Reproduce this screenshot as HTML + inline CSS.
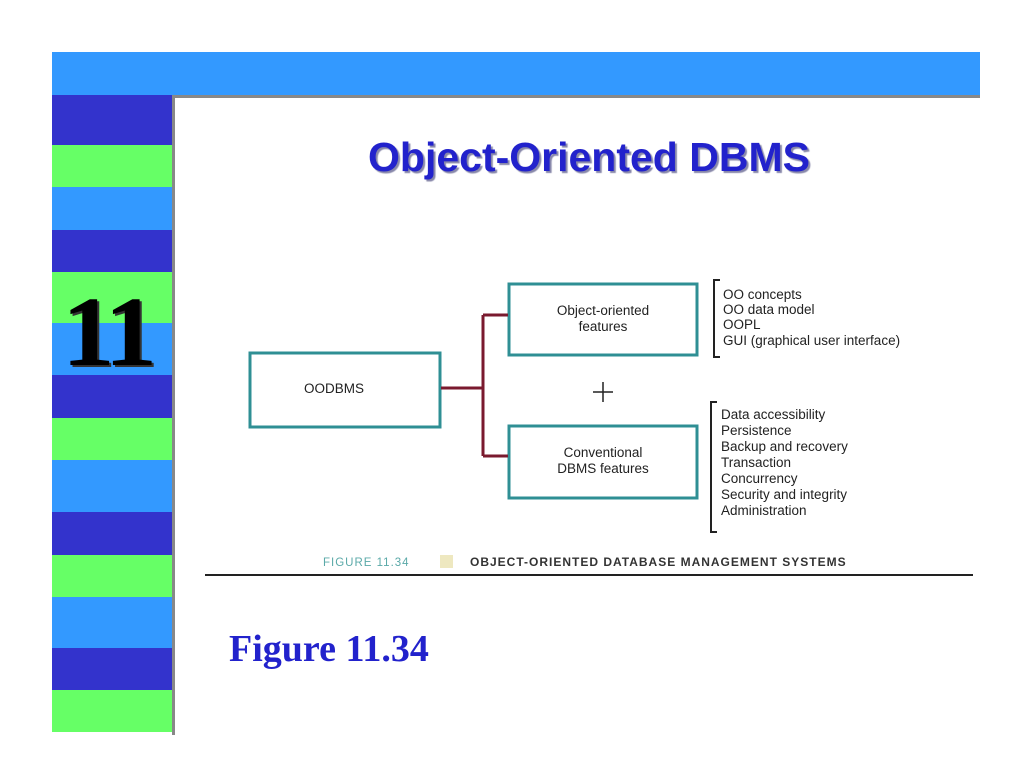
<!DOCTYPE html>
<html><head><meta charset="utf-8"><style>
body{margin:0;width:1024px;height:768px;background:#fff;position:relative;overflow:hidden;font-family:"Liberation Sans",sans-serif}
.a{position:absolute}
</style></head><body>
<div class="a" style="left:52px;top:52px;width:928px;height:43px;background:#3399ff"></div>
<div class="a" style="left:172px;top:95px;width:808px;height:3px;background:#888"></div>
<div class="a" style="left:172px;top:95px;width:3px;height:640px;background:#888"></div>
<div class="a" style="left:52px;top:95px;width:120px;height:50px;background:#3333cc"></div>
<div class="a" style="left:52px;top:145px;width:120px;height:42px;background:#66ff66"></div>
<div class="a" style="left:52px;top:187px;width:120px;height:43px;background:#3399ff"></div>
<div class="a" style="left:52px;top:230px;width:120px;height:42px;background:#3333cc"></div>
<div class="a" style="left:52px;top:272px;width:120px;height:51px;background:#66ff66"></div>
<div class="a" style="left:52px;top:323px;width:120px;height:52px;background:#3399ff"></div>
<div class="a" style="left:52px;top:375px;width:120px;height:43px;background:#3333cc"></div>
<div class="a" style="left:52px;top:418px;width:120px;height:42px;background:#66ff66"></div>
<div class="a" style="left:52px;top:460px;width:120px;height:52px;background:#3399ff"></div>
<div class="a" style="left:52px;top:512px;width:120px;height:43px;background:#3333cc"></div>
<div class="a" style="left:52px;top:555px;width:120px;height:42px;background:#66ff66"></div>
<div class="a" style="left:52px;top:597px;width:120px;height:51px;background:#3399ff"></div>
<div class="a" style="left:52px;top:648px;width:120px;height:42px;background:#3333cc"></div>
<div class="a" style="left:52px;top:690px;width:120px;height:42px;background:#66ff66"></div>
<div class="a" style="left:62px;top:282px;font-family:'Liberation Serif',serif;font-weight:bold;font-size:100px;line-height:100px;color:#000;letter-spacing:-4px;transform:scaleX(1.05);transform-origin:left;text-shadow:2px 2px 0 #333">11</div>
<div class="a" style="left:175px;top:134px;width:828px;text-align:center;font-weight:bold;font-size:41px;line-height:46px;color:#2222cc;text-shadow:2px 2px 1px #8888aa">Object-Oriented DBMS</div>
<svg class="a" style="left:0;top:0" width="1024" height="768">
<g fill="none" stroke="#2f8f94" stroke-width="3">
<rect x="250" y="353" width="190" height="74"/>
<rect x="509" y="284" width="188" height="71"/>
<rect x="509" y="426" width="188" height="72"/>
</g>
<g fill="none" stroke="#7a1a2e" stroke-width="3">
<path d="M441 388H483M483 315V456M483 315H508M483 456H508"/>
</g>
<path d="M603 382V402M593 392H613" stroke="#222" stroke-width="1.5"/>
<g fill="none" stroke="#222" stroke-width="2">
<path d="M720 280H714V357H720"/>
<path d="M717 402H711V532H717"/>
</g>
<g font-family="Liberation Sans,sans-serif" font-size="13.5" fill="#222">
<text x="304" y="393">OODBMS</text>
<text x="603" y="315" text-anchor="middle">Object-oriented</text>
<text x="603" y="331" text-anchor="middle">features</text>
<text x="603" y="457" text-anchor="middle">Conventional</text>
<text x="603" y="473" text-anchor="middle">DBMS features</text>
<text x="723" y="299">OO concepts</text>
<text x="723" y="314">OO data model</text>
<text x="723" y="329">OOPL</text>
<text x="723" y="345">GUI (graphical user interface)</text>
<text x="721" y="419">Data accessibility</text>
<text x="721" y="435">Persistence</text>
<text x="721" y="451">Backup and recovery</text>
<text x="721" y="467">Transaction</text>
<text x="721" y="483">Concurrency</text>
<text x="721" y="499">Security and integrity</text>
<text x="721" y="515">Administration</text>
</g>
<text x="323" y="566" font-family="Liberation Sans,sans-serif" font-size="11.5" fill="#5aa9a8" letter-spacing="1">FIGURE 11.34</text>
<rect x="440" y="555" width="13" height="13" fill="#eee8c0"/>
<text x="470" y="566" font-family="Liberation Sans,sans-serif" font-size="12" font-weight="bold" fill="#333" letter-spacing="1">OBJECT-ORIENTED DATABASE MANAGEMENT SYSTEMS</text>
<rect x="205" y="574" width="768" height="2" fill="#222"/>
</svg>
<div class="a" style="left:229px;top:627px;font-family:'Liberation Serif',serif;font-weight:bold;font-size:38px;line-height:44px;color:#2222cc">Figure 11.34</div>
</body></html>
